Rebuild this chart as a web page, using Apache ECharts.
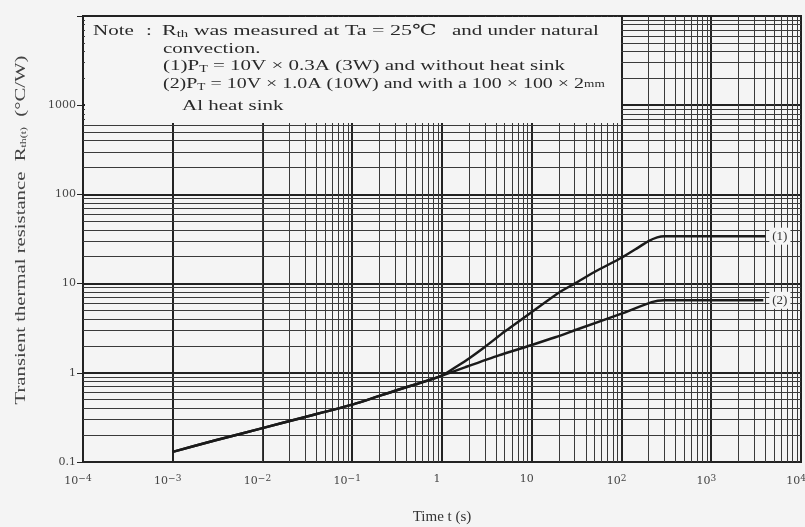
<!DOCTYPE html>
<html>
<head>
<meta charset="utf-8">
<script src="https://cdn.jsdelivr.net/npm/echarts@6/dist/echarts.min.js"></script>
<style>html,body{margin:0;padding:0;background:#f4f4f4;}#c{width:805px;height:527px;}</style>
</head>
<body>
<div id="c"></div>
<script>
// ---- data ----
var commonT = [0.001, 0.003, 0.01, 0.03, 0.1, 0.3, 0.55, 1];
var commonR = [0.13, 0.175, 0.24, 0.32, 0.44, 0.63, 0.76, 0.93];
var branch1T = [1.5, 2, 3, 5, 10, 20, 30, 50, 100, 150, 200, 250, 300, 1000, 4000];
var branch1R = [1.2, 1.45, 1.95, 2.9, 4.8, 7.9, 10, 13.5, 19.5, 25, 30, 33, 34, 34, 34];
var branch2T = [1.83, 4.3, 10, 18.3, 33, 100, 217, 300, 1000, 3800];
var branch2R = [1.16, 1.57, 2.05, 2.5, 3.1, 4.6, 6.2, 6.5, 6.5, 6.5];
var seriesNames = ['(1)', '(2)'];
var xExponents = [-4, -3, -2, -1, 0, 1, 2, 3, 4];
var xTickLabels = ['10{s|−4}', '10{s|−3}', '10{s|−2}', '10{s|−1}', '1', '10', '10{s|2}', '10{s|3}', '10{s|4}'];
var yTickLabels = ['0.1', '1', '10', '100', '1000', ''];
var minorMultipliers = [2, 3, 4, 5, 6, 7, 8, 9];
var xDecades = [-4, -3, -2, -1, 0, 1, 2, 3];
var yDecades = [-1, 0, 1, 2, 3];

function pairs(t, r) { return t.map(function (v, i) { return [v, r[i]]; }); }
var s1 = pairs(commonT, commonR).concat(pairs(branch1T, branch1R));
var s2 = pairs(commonT, commonR).concat(pairs(branch2T, branch2R));

var minorLines = [];
xDecades.forEach(function (d) { minorMultipliers.forEach(function (m) { minorLines.push({ xAxis: m * Math.pow(10, d) }); }); });
yDecades.forEach(function (d) { minorMultipliers.forEach(function (m) { minorLines.push({ yAxis: m * Math.pow(10, d) }); }); });

var serif = '"Liberation Serif", "DejaVu Serif", serif';
var wideSerif = '"DejaVu Serif", "Liberation Serif", serif';
var gridColor = '#3a3a3a';
var chart = echarts.init(document.getElementById('c'));
var noteStyle = { fontFamily: serif, fontSize: 15, fill: '#2a2a2a' };
var subRich = {
  sub: { fontFamily: serif, fontSize: 10, verticalAlign: 'bottom', padding: [7, 0, 0, 0], fill: '#2a2a2a' },
  sm: { fontFamily: serif, fontSize: 10, fill: '#2a2a2a' }
};
function noteText(x, y, txt, sx) {
  return { type: 'text', x: x, y: y, scaleX: sx || 1.4, z: 101,
    style: Object.assign({ text: txt, rich: subRich, verticalAlign: 'middle' }, noteStyle) };
}
chart.setOption({
  backgroundColor: '#f4f4f4',
  animation: false,
  grid: { left: 83, right: 4, top: 16, bottom: 65, show: true, borderColor: '#222', borderWidth: 2,
    backgroundColor: 'transparent', containLabel: false, outerBoundsMode: 'none' },
  xAxis: {
    type: 'log', logBase: 10, min: 1e-4, max: 1e4,
    name: 'Time t (s)', nameLocation: 'middle', nameGap: 48,
    nameTextStyle: { fontFamily: serif, fontSize: 15, color: '#333' },
    axisLine: { lineStyle: { color: '#222', width: 2 } },
    axisTick: { show: false },
    splitLine: { show: true, lineStyle: { color: '#222', width: 2 } },
    axisLabel: {
      margin: 12, fontFamily: wideSerif, fontSize: 11, color: '#444', padding: [0, 10, 0, 0],
      formatter: function (v) { var i = xExponents.indexOf(Math.round(Math.log10(v))); return i >= 0 ? xTickLabels[i] : ''; },
      rich: { s: { fontFamily: wideSerif, fontSize: 9, verticalAlign: 'top', padding: [0, 0, 6, 0], color: '#444' } }
    }
  },
  yAxis: {
    type: 'log', logBase: 10, min: 0.1, max: 1e4,
    axisLine: { lineStyle: { color: '#222', width: 2 } },
    axisTick: { show: true, length: 6, lineStyle: { color: '#222' } },
    splitLine: { show: true, lineStyle: { color: '#222', width: 2 } },
    axisLabel: {
      margin: 7, fontFamily: wideSerif, fontSize: 11, color: '#444',
      formatter: function (v) { var i = Math.round(Math.log10(v)) + 1; return yTickLabels[i] || ''; }
    }
  },
  graphic: [
    { type: 'rect', shape: { x: 85, y: 17, width: 536, height: 106 }, style: { fill: '#f5f5f5' }, z: 100 },
    noteText(93, 31, 'Note'),
    noteText(146, 31, ':'),
    noteText(162, 31, 'R{sub|th} was measured at Ta = 25℃', 1.47),
    noteText(452, 31, 'and under natural'),
    noteText(163, 49, 'convection.'),
    noteText(163, 66, '(1)P{sub|T} = 10V × 0.3A (3W) and without heat sink'),
    noteText(163, 84, '(2)P{sub|T} = 10V × 1.0A (10W) and with a 100 × 100 × 2{sm|mm}', 1.33),
    noteText(182, 106, 'Al heat sink'),
    { type: 'text', x: 21, y: 230, rotation: Math.PI / 2, scaleX: 1.48, z: 101,
      style: { text: 'Transient thermal resistance  R{sub|th(t)}  (°C/W)', fontFamily: serif, fontSize: 14, fill: '#444',
        align: 'center', verticalAlign: 'middle',
        rich: { sub: { fontFamily: serif, fontSize: 8, fill: '#444', verticalAlign: 'bottom', padding: [6, 0, 0, 0] } } } }
  ],
  series: [
    {
      type: 'line', data: [], z: 1, silent: true,
      markLine: { silent: true, symbol: 'none', label: { show: false }, animation: false,
        lineStyle: { color: gridColor, width: 1, type: 'solid' }, data: minorLines }
    },
    {
      name: seriesNames[0], type: 'line', data: s1, smooth: 0.2, showSymbol: false, z: 5,
      lineStyle: { color: '#1a1a1a', width: 2.5 },
      endLabel: { show: true, formatter: seriesNames[0], fontFamily: serif, fontSize: 13, color: '#333', backgroundColor: '#f5f5f5', padding: [2, 3], distance: 4 }
    },
    {
      name: seriesNames[1], type: 'line', data: s2, smooth: 0.2, showSymbol: false, z: 5,
      lineStyle: { color: '#1a1a1a', width: 2.5 },
      endLabel: { show: true, formatter: seriesNames[1], fontFamily: serif, fontSize: 13, color: '#333', backgroundColor: '#f5f5f5', padding: [2, 3], distance: 6 }
    }
  ]
});
</script>
</body>
</html>
